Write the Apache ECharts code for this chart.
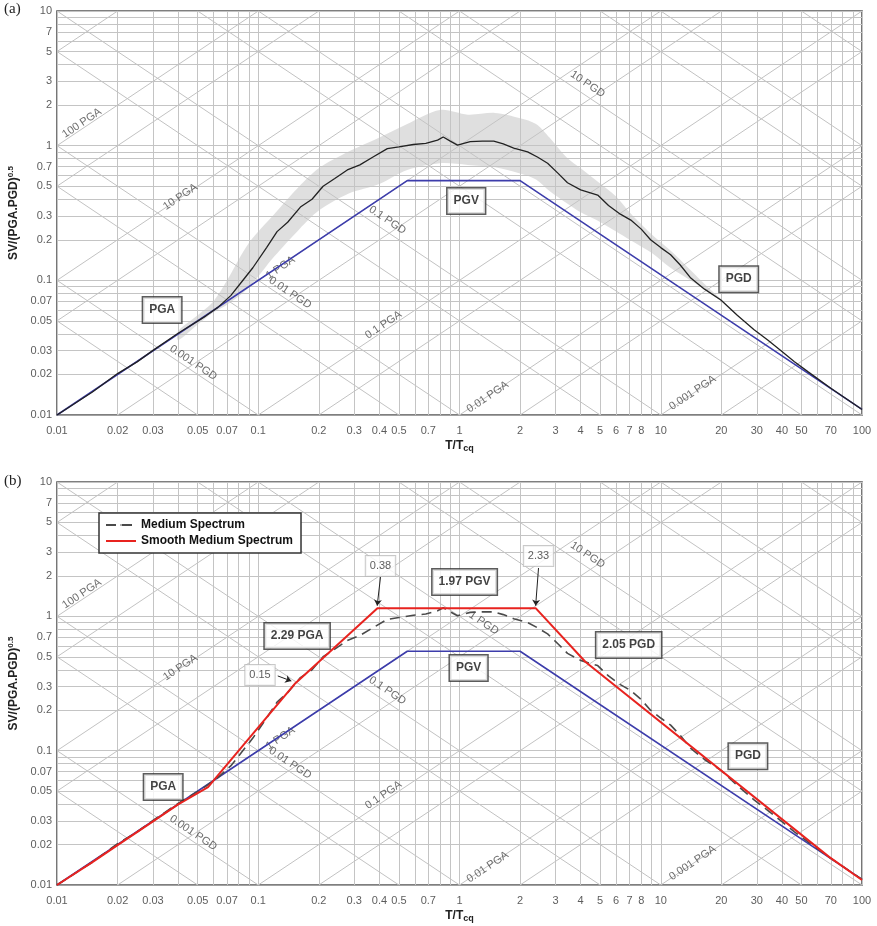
<!doctype html>
<html>
<head>
<meta charset="utf-8">
<title>tripartite-spectra</title>
<style>
	html,body{height:100%;padding:0;margin:0;background:#fff;}
	#chart{width:877px;height:926px;}
</style>
</head>
<body>
<div id="chart"></div>
<script src="https://cdn.jsdelivr.net/npm/echarts@6.0.0/dist/echarts.min.js"></script>
<script>
// tick labels shown on the axes
var xTickLabels = [0.01,0.02,0.03,0.05,0.07,0.1,0.2,0.3,0.4,0.5,0.7,1,2,3,4,5,6,7,8,10,20,30,40,50,70,100];
var yTickLabels = [0.01,0.02,0.03,0.05,0.07,0.1,0.2,0.3,0.5,0.7,1,2,3,5,7,10];
var gridSteps = [1,2,3,4,5,6,7,8,9];
var xDecades = [0.01,0.1,1,10];
var yDecades = [0.01,0.1,1];
// constants of the diagonal PGA / PGD lines
var diagK = [0.0005,0.001,0.005,0.01,0.05,0.1,0.5,1,5,10,50,100,500];

// PGA - PGV - PGD trapezoid
var baseT  = [0.01, 0.55, 2.0, 100];
var baseSV = [0.01, 0.55, 0.55, 0.011];

// median spectrum
var medT  = [0.01,0.015,0.02,0.025,0.03,0.04,0.05,0.055,0.063,0.073,0.083,0.094,0.11,0.124,0.14,0.162,0.185,0.21,0.24,0.277,0.32,0.37,0.438,0.5,0.59,0.68,0.778,0.83,0.9,0.977,1.13,1.3,1.48,1.65,1.86,2.18,2.45,2.74,3.1,3.44,4.0,4.86,5.5,6.3,7.1,8.0,8.9,10,11.2,12.5,14.1,16.5,19.9,24,29.1,34,39.6,46,53.8,70,100];
var medSV = [0.01,0.0148,0.0203,0.0248,0.0302,0.0405,0.0498,0.0545,0.063,0.077,0.098,0.124,0.175,0.23,0.27,0.35,0.40,0.50,0.57,0.66,0.72,0.82,0.95,0.98,1.02,1.04,1.10,1.16,1.08,1.01,1.07,1.08,1.08,1.03,0.96,0.90,0.82,0.74,0.62,0.53,0.47,0.43,0.36,0.31,0.28,0.24,0.20,0.175,0.155,0.13,0.104,0.086,0.0715,0.055,0.043,0.036,0.030,0.025,0.021,0.0158,0.011];

// spread of the spectra (grey band)
var bandT     = [0.04,0.05,0.06,0.07,0.09,0.12,0.16,0.2,0.28,0.4,0.55,0.8,1.1,1.5,2.0,2.4,2.8,3.4,4.0,4.8,6,7,9,11,14,17,20];
var bandUpper = [0.042,0.055,0.07,0.10,0.19,0.31,0.5,0.68,0.9,1.15,1.45,1.84,1.7,1.75,1.6,1.45,1.15,0.82,0.68,0.55,0.42,0.32,0.22,0.17,0.12,0.09,0.072];
var bandLower = [0.036,0.047,0.058,0.066,0.089,0.15,0.24,0.33,0.44,0.52,0.66,0.74,0.72,0.69,0.62,0.56,0.46,0.375,0.32,0.28,0.23,0.2,0.16,0.126,0.1,0.083,0.07];

// smoothed median spectrum
var smoothT  = [0.01,0.015,0.02,0.03,0.04,0.0563,0.153,0.391,2.39,4.23,68.6,100];
var smoothSV = [0.01,0.0148,0.0198,0.0298,0.0398,0.0536,0.318,1.15,1.15,0.457,0.0162,0.0109];

// labels on the diagonals
var pgaText = ['100 PGA','10 PGA','1 PGA','0.1 PGA','0.01 PGA','0.001 PGA'];
var pgaAt   = [[0.0133,1.47],[0.041,0.416],[0.129,0.124],[0.419,0.0467],[1.38,0.0136],[14.4,0.0146]];
var pgdText = ['0.001 PGD','0.01 PGD','0.1 PGD','1 PGD','10 PGD'];
var pgdAt   = [[0.0475,0.0244],[0.144,0.0806],[0.438,0.28],[1.32,0.89],[4.33,2.86]];

// boxed labels
var boxTextA = ['PGA','PGV','PGD'];
var boxAtA   = [[0.0333,0.0602],[1.08,0.389],[24.4,0.102]];
var boxTextB = ['PGA','PGV','PGD','2.29 PGA','1.97 PGV','2.05 PGD'];
var boxAtB   = [[0.0337,0.0536],[1.11,0.412],[27.1,0.091],[0.156,0.713],[1.06,1.80],[6.93,0.611]];
var noteText = ['0.38','2.33','0.15'];
var noteAt   = [[0.405,2.37],[2.47,2.81],[0.102,0.366]];
var noteArrows = [[[0.405,1.96],[0.39,1.2]],[[2.47,2.29],[2.39,1.2]],[[0.125,0.36],[0.146,0.33]]];

var FONT = 'Liberation Sans, Arial, sans-serif';

function zip(a, b){ return a.map(function(v, i){ return [v, b[i]]; }); }

function gridValues(decs){
	var out = [];
	decs.forEach(function(d){ gridSteps.forEach(function(s){ out.push(+(d*s).toPrecision(3)); }); });
	out.push(+(decs[decs.length-1]*10).toPrecision(3));
	return out;
}
var xGrid = gridValues(xDecades), yGrid = gridValues(yDecades);

function gridLines(){
	var out = [];
	xGrid.forEach(function(t){ out.push({coords:[[t,0.01],[t,10]]}); });
	yGrid.forEach(function(v){ out.push({coords:[[0.01,v],[100,v]]}); });
	return out;
}
function diagLines(){
	var out = [];
	diagK.forEach(function(k){
		// constant PGA: SV = k T
		var a1 = Math.max(0.01, 0.01/k), a2 = Math.min(100, 10/k);
		if (a1 < a2) out.push({coords:[[a1,k*a1],[a2,k*a2]]});
		// constant PGD: SV = k / T
		var d1 = Math.max(0.01, k/10), d2 = Math.min(100, k/0.01);
		if (d1 < d2) out.push({coords:[[d1,k/d1],[d2,k/d2]]});
	});
	return out;
}

function panelSeries(g, withOnePGD){
	var s = [];
	s.push({type:'lines', coordinateSystem:'cartesian2d', xAxisIndex:g, yAxisIndex:g, silent:true, z:2,
		lineStyle:{color:'#c4c4c4', width:1, opacity:1}, data:gridLines()});
	s.push({type:'lines', coordinateSystem:'cartesian2d', xAxisIndex:g, yAxisIndex:g, silent:true, z:2,
		lineStyle:{color:'#c2c2c2', width:1, opacity:1}, data:diagLines()});
	// tick labels
	s.push({type:'scatter', xAxisIndex:g, yAxisIndex:g, symbolSize:0, silent:true, clip:false, z:6,
		data:xTickLabels.map(function(t){ return [t,0.01]; }),
		label:{show:true, position:'bottom', distance:10, color:'#333', fontSize:11, fontFamily:FONT,
			formatter:function(p){ return String(p.value[0]); }}});
	s.push({type:'scatter', xAxisIndex:g, yAxisIndex:g, symbolSize:0, silent:true, clip:false, z:6,
		data:yTickLabels.map(function(v){ return [0.01,v]; }),
		label:{show:true, position:'left', distance:5, color:'#333', fontSize:11, fontFamily:FONT,
			formatter:function(p){ return String(p.value[1]); }}});
	// diagonal labels
	var dl = [];
	pgaText.forEach(function(t, i){ dl.push({value:pgaAt[i], name:t, label:{rotate:33.8}}); });
	pgdText.forEach(function(t, i){ if (t !== '1 PGD' || withOnePGD) dl.push({value:pgdAt[i], name:t, label:{rotate:-33.8}}); });
	s.push({type:'scatter', xAxisIndex:g, yAxisIndex:g, symbolSize:0, silent:true, z:2, data:dl,
		label:{show:true, position:'inside', color:'#4a4a4a', fontSize:11, fontFamily:FONT,
			formatter:function(p){ return p.name; }}});
	// PGA-PGV-PGD line
	s.push({type:'line', name:'base'+g, xAxisIndex:g, yAxisIndex:g, symbol:'none', z:5, silent:true,
		lineStyle:{color:'#3d3dab', width:1.6}, data:zip(baseT, baseSV)});
	return s;
}

function boxes(g, texts, at){
	return {type:'scatter', xAxisIndex:g, yAxisIndex:g, symbolSize:0, silent:true, z:9,
		data:texts.map(function(t, i){ return {value:at[i], name:t}; }),
		label:{show:true, position:'inside', color:'#111', fontSize:12, fontWeight:'bold', fontFamily:FONT,
			backgroundColor:'#fff', borderColor:'#333', borderWidth:1.5, padding:[7,6,6,6],
			formatter:function(p){ return p.name; }}};
}

var series = [];
// (a)
series.push({type:'custom', xAxisIndex:0, yAxisIndex:0, z:3, silent:true, clip:true, data:[[1,1]],
	renderItem:function(params, api){
		var pts = [], i;
		for (i = 0; i < bandT.length; i++) pts.push(api.coord([bandT[i], bandUpper[i]]));
		for (i = bandT.length-1; i >= 0; i--) pts.push(api.coord([bandT[i], bandLower[i]]));
		return {type:'polygon', shape:{points:pts, smooth:0.3}, style:{fill:'rgba(196,196,196,0.55)'}};
	}});
series = series.concat(panelSeries(0, false));
series.push({type:'line', name:'median', xAxisIndex:0, yAxisIndex:0, symbol:'none', z:6, silent:true,
	lineStyle:{color:'#222', width:1.3}, data:zip(medT, medSV)});
series.push(boxes(0, boxTextA, boxAtA));
// (b)
series = series.concat(panelSeries(1, true));
series.push({type:'line', name:'Medium Spectrum', xAxisIndex:1, yAxisIndex:1, symbol:'none', z:6, silent:true,
	lineStyle:{color:'#4a4a4a', width:1.6, type:[10,6]}, itemStyle:{color:'#4a4a4a'}, data:zip(medT, medSV)});
series.push({type:'line', name:'Smooth Medium Spectrum', xAxisIndex:1, yAxisIndex:1, symbol:'none', z:7, silent:true,
	lineStyle:{color:'#e8231f', width:2}, itemStyle:{color:'#e8231f'}, data:zip(smoothT, smoothSV)});
series.push(boxes(1, boxTextB, boxAtB));
series.push({type:'scatter', xAxisIndex:1, yAxisIndex:1, symbolSize:0, silent:true, z:9,
	data:noteText.map(function(t, i){ return {value:noteAt[i], name:t}; }),
	label:{show:true, position:'inside', color:'#333', fontSize:11, fontFamily:FONT,
		backgroundColor:'#fff', borderColor:'#bbb', borderWidth:1, padding:[5,4,4,4],
		formatter:function(p){ return p.name; }}});
series.push({type:'lines', coordinateSystem:'cartesian2d', xAxisIndex:1, yAxisIndex:1, silent:true, z:8,
	symbol:['none','arrow'], symbolSize:6,
	lineStyle:{color:'#222', width:1, opacity:1},
	data:noteArrows.map(function(c){ return {coords:c}; })});

function xAxisOf(g){
	return {type:'log', logBase:10, gridIndex:g, min:0.01, max:100,
		axisLabel:{show:false}, axisTick:{show:false}, splitLine:{show:false}, axisLine:{show:false},
		name:'T/T{s|cq}', nameLocation:'middle', nameGap:23,
		nameTextStyle:{color:'#222', fontSize:12, fontWeight:'bold', fontFamily:FONT,
			rich:{s:{fontSize:9, fontWeight:'bold', fontFamily:FONT, verticalAlign:'bottom', padding:[6,0,0,0]}}}};
}
function yAxisOf(g){
	return {type:'log', logBase:10, gridIndex:g, min:0.01, max:10,
		axisLabel:{show:false}, axisTick:{show:false}, splitLine:{show:false}, axisLine:{show:false},
		name:'SV/(PGA.PGD){s|0.5}', nameLocation:'middle', nameGap:36,
		nameTextStyle:{color:'#222', fontSize:12, fontWeight:'bold', fontFamily:FONT,
			rich:{s:{fontSize:8, fontWeight:'bold', fontFamily:FONT, verticalAlign:'top', padding:[0,0,6,0]}}}};
}

var myChart = echarts.init(document.getElementById('chart'), null, {renderer:'canvas'});
var option = {
	animation:false,
	backgroundColor:'#fff',
	grid:[
		{left:57, top:11, width:805, height:404, containLabel:false, outerBoundsMode:'none',
			show:true, borderColor:'#555', borderWidth:1.6, backgroundColor:'#fff'},
		{left:57, top:482, width:805, height:403, containLabel:false, outerBoundsMode:'none',
			show:true, borderColor:'#555', borderWidth:1.6, backgroundColor:'#fff'}
	],
	xAxis:[xAxisOf(0), xAxisOf(1)],
	yAxis:[yAxisOf(0), yAxisOf(1)],
	legend:{data:['Medium Spectrum','Smooth Medium Spectrum'], left:99, top:513, orient:'vertical',
		backgroundColor:'#fff', borderColor:'#333', borderWidth:1.5, padding:[6,8,6,6], itemGap:4,
		itemWidth:30, itemHeight:2, selectedMode:false,
		textStyle:{color:'#111', fontSize:12, fontWeight:'bold', fontFamily:FONT}},
	graphic:[
		{type:'text', left:4, top:2, style:{text:'(a)', font:'15px "Liberation Serif", serif', fill:'#222'}},
		{type:'text', left:4, top:474, style:{text:'(b)', font:'15px "Liberation Serif", serif', fill:'#222'}}
	],
	series:series
};
myChart.setOption(option);
</script>
</body>
</html>
